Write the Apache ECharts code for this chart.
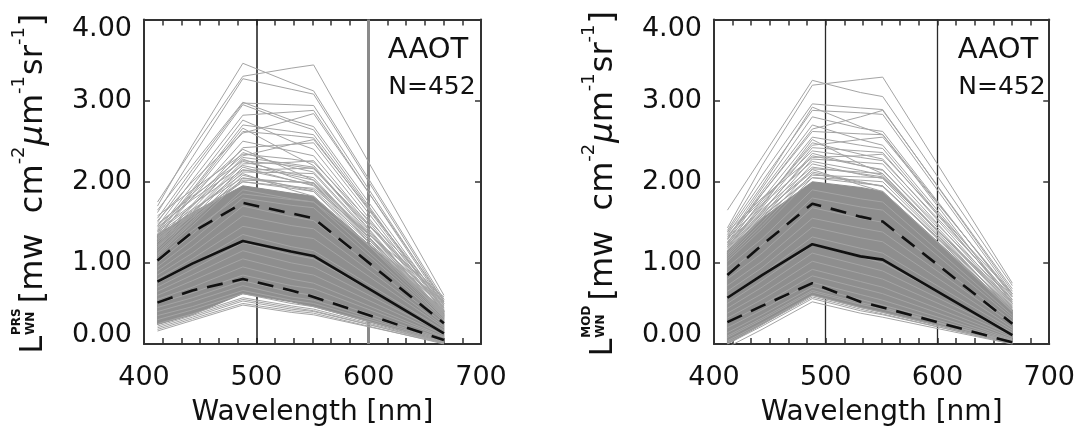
<!DOCTYPE html>
<html>
<head>
<meta charset="utf-8">
<script src="https://cdn.jsdelivr.net/npm/echarts@6/dist/echarts.min.js"></script>
<style>html,body{margin:0;padding:0;background:#fff}#c{width:1078px;height:435px}</style>
</head>
<body>
<div id="c"></div>
<script>
const wavelengths = [412, 443, 488, 531, 551, 667];
const xTicks = [400, 500, 600, 700];
const yTickLabels = ['0.00', '1.00', '2.00', '3.00', '4.00'];
const refLines = [500, 600];

const prsSpectra = [
  [1.70, 2.45, 3.46, 3.22, 3.12, 0.55],
  [1.75, 2.40, 3.30, 3.40, 3.44, 0.60],
  [1.62, 2.30, 3.27, 3.14, 3.08, 0.52],
  [1.55, 2.15, 2.97, 2.95, 2.94, 0.50],
  [1.50, 2.10, 2.95, 2.73, 2.64, 0.42],
  [1.45, 2.02, 2.82, 2.86, 2.88, 0.48],
  [1.40, 1.95, 2.76, 2.50, 2.40, 0.40],
  [1.38, 1.90, 2.70, 2.62, 2.58, 0.45],
  [1.35, 1.88, 2.66, 2.34, 2.20, 0.36],
  [1.30, 1.85, 2.62, 2.57, 2.54, 0.44],
  [1.33, 1.80, 2.50, 2.38, 2.32, 0.40],
  [1.28, 1.72, 2.42, 2.46, 2.48, 0.42],
  [1.25, 1.70, 2.36, 2.18, 2.12, 0.38],
  [1.22, 1.66, 2.30, 2.22, 2.18, 0.35],
  [1.20, 1.62, 2.25, 2.10, 2.05, 0.33],
  [1.18, 1.60, 2.22, 2.24, 2.26, 0.40],
  [1.15, 1.56, 2.18, 2.02, 1.95, 0.32],
  [1.12, 1.52, 2.12, 2.11, 2.10, 0.36],
  [1.10, 1.50, 2.08, 1.94, 1.88, 0.30],
  [1.08, 1.46, 2.04, 2.00, 1.98, 0.34],
  [1.65, 2.20, 2.98, 2.76, 2.68, 0.47],
  [1.52, 2.00, 2.60, 2.76, 2.84, 0.53],
  [1.42, 1.80, 2.32, 2.46, 2.52, 0.50],
  [1.46, 1.85, 2.40, 2.14, 2.02, 0.35],
  [1.20, 1.55, 2.00, 1.94, 1.92, 0.58],
  [1.05, 1.40, 1.85, 1.78, 1.75, 0.52],
  [1.36, 1.66, 2.05, 1.95, 1.90, 0.45],
  [1.30, 1.60, 2.00, 1.92, 1.88, 0.40],
  [1.40, 1.72, 2.15, 2.02, 1.96, 0.44],
  [1.32, 1.64, 2.10, 1.90, 1.82, 0.38],
  [1.44, 1.78, 2.20, 2.08, 2.02, 0.46],
  [1.26, 1.58, 2.02, 2.00, 1.99, 0.48],
  [1.38, 1.70, 2.28, 2.06, 1.98, 0.39],
  [1.48, 1.82, 2.26, 2.20, 2.16, 0.50],
  [1.58, 1.90, 2.34, 2.28, 2.24, 0.55],
  [1.28, 1.62, 2.14, 2.16, 2.17, 0.52],
  [1.00, 1.35, 1.90, 1.79, 1.75, 0.30],
  [0.95, 1.28, 1.80, 1.71, 1.68, 0.28],
  [0.90, 1.20, 1.70, 1.57, 1.52, 0.25],
  [0.85, 1.12, 1.58, 1.46, 1.42, 0.22],
  [0.80, 1.05, 1.45, 1.34, 1.30, 0.20],
  [0.75, 0.98, 1.35, 1.20, 1.15, 0.17],
  [0.70, 0.92, 1.25, 1.10, 1.05, 0.15],
  [0.65, 0.85, 1.15, 1.00, 0.95, 0.13],
  [0.60, 0.78, 1.05, 0.90, 0.85, 0.11],
  [0.55, 0.70, 0.95, 0.80, 0.75, 0.09],
  [0.50, 0.63, 0.85, 0.72, 0.68, 0.08],
  [0.45, 0.57, 0.78, 0.64, 0.60, 0.06],
  [0.40, 0.52, 0.72, 0.58, 0.54, 0.05],
  [0.35, 0.46, 0.66, 0.54, 0.50, 0.04],
  [0.30, 0.42, 0.62, 0.50, 0.46, 0.03],
  [0.25, 0.37, 0.57, 0.47, 0.43, 0.02],
  [0.20, 0.33, 0.53, 0.43, 0.40, 0.02],
  [0.16, 0.29, 0.48, 0.39, 0.36, 0.01],
  [0.18, 0.31, 0.50, 0.41, 0.38, 0.00],
  [0.22, 0.35, 0.55, 0.45, 0.41, 0.01]
];
const prsMean = [0.77, 0.99, 1.27, 1.14, 1.085, 0.13];
const prsPlusSd = [1.03, 1.38, 1.74, 1.61, 1.55, 0.255];
const prsMinusSd = [0.51, 0.66, 0.80, 0.66, 0.58, 0.05];
const prsCoreLow = [0.24, 0.36, 0.62, 0.52, 0.46, 0.02];
const prsCoreHigh = [1.35, 1.62, 1.95, 1.86, 1.82, 0.42];

const modSpectra = [
  [1.65, 2.30, 3.25, 3.10, 3.05, 0.72],
  [1.43, 2.20, 3.19, 3.26, 3.29, 0.75],
  [1.40, 2.08, 2.96, 2.91, 2.89, 0.65],
  [1.38, 2.00, 2.88, 2.85, 2.83, 0.62],
  [1.30, 1.92, 2.80, 2.66, 2.62, 0.58],
  [1.28, 1.88, 2.70, 2.52, 2.45, 0.55],
  [1.25, 1.85, 2.62, 2.59, 2.58, 0.60],
  [1.22, 1.78, 2.55, 2.45, 2.41, 0.52],
  [1.20, 1.72, 2.48, 2.34, 2.28, 0.50],
  [1.18, 1.68, 2.42, 2.38, 2.36, 0.54],
  [1.15, 1.62, 2.35, 2.20, 2.15, 0.46],
  [1.12, 1.58, 2.28, 2.24, 2.22, 0.48],
  [1.10, 1.55, 2.22, 2.09, 2.04, 0.42],
  [1.08, 1.50, 2.16, 2.12, 2.10, 0.45],
  [1.05, 1.46, 2.10, 1.99, 1.95, 0.40],
  [1.02, 1.42, 2.05, 2.02, 2.00, 0.43],
  [1.35, 1.95, 2.92, 2.68, 2.58, 0.50],
  [1.32, 1.85, 2.65, 2.80, 2.88, 0.68],
  [1.25, 1.75, 2.45, 2.52, 2.55, 0.62],
  [1.20, 1.70, 2.52, 2.22, 2.10, 0.40],
  [1.18, 1.58, 2.05, 1.98, 1.95, 0.45],
  [1.22, 1.62, 2.12, 2.00, 1.94, 0.44],
  [1.26, 1.66, 2.18, 2.10, 2.06, 0.50],
  [1.16, 1.56, 2.08, 2.06, 2.05, 0.52],
  [1.30, 1.72, 2.25, 2.14, 2.08, 0.47],
  [1.24, 1.64, 2.32, 2.20, 2.14, 0.55],
  [1.34, 1.78, 2.38, 2.30, 2.26, 0.58],
  [1.20, 1.60, 2.15, 1.96, 1.88, 0.40],
  [1.38, 1.80, 2.30, 2.32, 2.34, 0.62],
  [0.95, 1.30, 1.90, 1.79, 1.75, 0.35],
  [0.88, 1.22, 1.80, 1.69, 1.65, 0.32],
  [0.80, 1.12, 1.68, 1.55, 1.50, 0.28],
  [0.72, 1.02, 1.55, 1.43, 1.38, 0.24],
  [0.65, 0.94, 1.44, 1.31, 1.26, 0.20],
  [0.58, 0.86, 1.32, 1.18, 1.12, 0.17],
  [0.50, 0.78, 1.22, 1.07, 1.00, 0.14],
  [0.44, 0.70, 1.12, 0.97, 0.90, 0.12],
  [0.38, 0.62, 1.02, 0.87, 0.80, 0.10],
  [0.32, 0.55, 0.92, 0.77, 0.70, 0.08],
  [0.26, 0.48, 0.84, 0.69, 0.62, 0.06],
  [0.20, 0.42, 0.76, 0.61, 0.54, 0.05],
  [0.14, 0.36, 0.70, 0.55, 0.48, 0.04],
  [0.08, 0.30, 0.64, 0.49, 0.43, 0.03],
  [0.04, 0.26, 0.60, 0.45, 0.39, 0.02],
  [0.00, 0.22, 0.56, 0.41, 0.36, 0.01],
  [-0.04, 0.18, 0.52, 0.38, 0.33, 0.00],
  [0.02, 0.24, 0.58, 0.43, 0.37, 0.00],
  [0.10, 0.32, 0.66, 0.51, 0.45, 0.02]
];
const modMean = [0.57, 0.85, 1.23, 1.08, 1.04, 0.11];
const modPlusSd = [0.85, 1.22, 1.73, 1.57, 1.51, 0.25];
const modMinusSd = [0.27, 0.47, 0.75, 0.52, 0.45, 0.02];
const modCoreLow = [0.00, 0.24, 0.60, 0.45, 0.39, 0.01];
const modCoreHigh = [1.15, 1.55, 2.00, 1.93, 1.88, 0.42];

const FONT = '"DejaVu Sans", "Liberation Sans", sans-serif';
const GRID_W = 337, GRID_H = 324.5, GRID_TOP = 19.5;
const panels = [
  {left: 144, sup: 'PRS', spectra: prsSpectra, mean: prsMean, plus: prsPlusSd, minus: prsMinusSd,
   coreLow: prsCoreLow, coreHigh: prsCoreHigh,
   refStyles: [{color: '#1a1a1a', width: 1.5}, {color: '#8a8a8a', width: 3}]},
  {left: 714, sup: 'MOD', spectra: modSpectra, mean: modMean, plus: modPlusSd, minus: modMinusSd,
   coreLow: modCoreLow, coreHigh: modCoreHigh,
   refStyles: [{color: '#2a2a2a', width: 1.3}, {color: '#2a2a2a', width: 1.3}]}
];

const pairs = vals => wavelengths.map((w, k) => [w, vals[k]]);
const axisLineStyle = {color: '#333', width: 2};
const tickStyle = {color: '#333', width: 1.5};

const grid = [], xAxis = [], yAxis = [], series = [], graphic = [];

panels.forEach((p, i) => {
  grid.push({left: p.left, top: GRID_TOP, width: GRID_W, height: GRID_H, containLabel: false});
  const xBase = {
    type: 'value', gridIndex: i, min: xTicks[0], max: xTicks[xTicks.length - 1], interval: 100,
    splitLine: {show: false},
    axisLine: {show: true, onZero: false, lineStyle: axisLineStyle},
    axisTick: {show: true, inside: true, length: 6, lineStyle: tickStyle},
    minorTick: {show: true, splitNumber: 6, length: 6, lineStyle: tickStyle}
  };
  xAxis.push(Object.assign({}, xBase, {
    position: 'bottom',
    axisLabel: {show: true, margin: 20, fontFamily: FONT, fontSize: 27, color: '#111',
      formatter: v => String(v)},
    name: 'Wavelength [nm]', nameLocation: 'middle', nameGap: 55,
    nameTextStyle: {fontFamily: FONT, fontSize: 28, color: '#111'}
  }));
  xAxis.push(Object.assign({}, xBase, {position: 'top', axisLabel: {show: false}}));
  const yBase = {
    type: 'value', gridIndex: i, min: 0, max: 4, interval: 1,
    splitLine: {show: false},
    axisLine: {show: true, onZero: false, lineStyle: axisLineStyle},
    axisTick: {show: true, inside: true, length: 6, lineStyle: tickStyle}
  };
  yAxis.push(Object.assign({}, yBase, {
    position: 'left',
    axisLabel: {show: true, margin: 12, fontFamily: FONT, fontSize: 27, lineHeight: 18, color: '#111',
      formatter: v => yTickLabels[Math.round(v)],
      verticalAlignMinLabel: 'bottom', verticalAlignMaxLabel: 'top'}
  }));
  yAxis.push(Object.assign({}, yBase, {position: 'right', axisLabel: {show: false}}));

  const xi = 2 * i, yi = 2 * i;
  // reference vertical lines (underneath the spectra)
  series.push({
    type: 'line', xAxisIndex: xi, yAxisIndex: yi, data: [], z: 1, silent: true,
    markLine: {
      z: 1, silent: true, symbol: 'none', label: {show: false}, animation: false,
      data: refLines.map((w, k) => ({xAxis: w, lineStyle: {color: p.refStyles[k].color, width: p.refStyles[k].width, type: 'solid'}}))
    }
  });
  // dense core band of overlapping spectra, drawn as a polygon through the axes
  const low = p.coreLow, high = p.coreHigh;
  series.push({
    type: 'custom', xAxisIndex: xi, yAxisIndex: yi, z: 2, silent: true, clip: true,
    data: wavelengths.map((w, k) => [w, low[k], high[k]]),
    renderItem: (params, api) => {
      if (params.dataIndex !== 0) return null;
      const top = wavelengths.map((w, k) => api.coord([w, high[k]]));
      const bottom = wavelengths.map((w, k) => api.coord([w, low[k]])).reverse();
      return {type: 'polygon', shape: {points: top.concat(bottom)},
        style: {fill: '#8e8e8e', stroke: '#8e8e8e', lineWidth: 1}};
    },
    animation: false
  });
  // individual spectra
  p.spectra.forEach(s => {
    series.push({
      type: 'line', xAxisIndex: xi, yAxisIndex: yi, z: 3, silent: true, symbol: 'none',
      lineStyle: {color: '#a4a4a4', width: 1}, data: pairs(s), animation: false
    });
  });
  // mean and +/- sd
  series.push({type: 'line', xAxisIndex: xi, yAxisIndex: yi, z: 5, silent: true, symbol: 'none',
    lineStyle: {color: '#111', width: 2.6}, data: pairs(p.mean), animation: false});
  [p.plus, p.minus].forEach(arr => series.push({
    type: 'line', xAxisIndex: xi, yAxisIndex: yi, z: 5, silent: true, symbol: 'none',
    lineStyle: {color: '#111', width: 2.6, type: [16, 10]}, data: pairs(arr), animation: false
  }));

  // AAOT / N=452 annotation
  const right = p.left + GRID_W;
  graphic.push({type: 'text', x: right - 53, y: 50, z: 10,
    style: {text: 'AAOT', fontFamily: FONT, fontSize: 29, fill: '#111', align: 'center', verticalAlign: 'middle', textAlign: 'center', textVerticalAlign: 'middle'}});
  graphic.push({type: 'text', x: right - 49, y: 87, z: 10,
    style: {text: 'N=452', fontFamily: FONT, fontSize: 25, fill: '#111', align: 'center', verticalAlign: 'middle', textAlign: 'center', textVerticalAlign: 'middle'}});

  // rotated y-axis title: L^{sup}_{WN} [mw cm^-2 μm^-1 sr^-1]
  const ctx = document.createElement('canvas').getContext('2d');
  const measure = (t, size, weight, style) => {
    ctx.font = (style || 'normal') + ' ' + (weight || 'normal') + ' ' + size + 'px "DejaVu Sans"';
    return ctx.measureText(t).width;
  };
  const MAIN = 32, SUP = 18, IDX = 12;
  const pieces = [
    {t: '[mw  cm', s: MAIN, y: -11},
    {t: '-2', s: SUP, y: -26},
    {t: 'μ', s: MAIN, y: -11, italic: true},
    {t: 'm', s: MAIN, y: -11},
    {t: '-1', s: SUP, y: -26},
    {t: 'sr', s: MAIN, y: -11},
    {t: '-1', s: SUP, y: -26},
    {t: ']', s: MAIN, y: -11}
  ];
  const children = [];
  let x = 0;
  const lw = measure('L', MAIN);
  children.push({type: 'text', x: 0, y: -11, style: {text: 'L', fontFamily: FONT, fontSize: MAIN, fill: '#111', align: 'left', verticalAlign: 'middle', textAlign: 'left', textVerticalAlign: 'middle'}});
  x += lw + 1;
  children.push({type: 'text', x: x, y: -28, style: {text: p.sup, fontFamily: FONT, fontSize: IDX, fontWeight: 'bold', fill: '#111', align: 'left', verticalAlign: 'middle', textAlign: 'left', textVerticalAlign: 'middle'}});
  children.push({type: 'text', x: x, y: -14, style: {text: 'WN', fontFamily: FONT, fontSize: IDX, fontWeight: 'bold', fill: '#111', align: 'left', verticalAlign: 'middle', textAlign: 'left', textVerticalAlign: 'middle'}});
  x += Math.max(measure(p.sup, IDX, 'bold'), measure('WN', IDX, 'bold')) + 5;
  pieces.forEach(pc => {
    children.push({type: 'text', x: x, y: pc.y, style: {text: pc.t, fontFamily: FONT, fontSize: pc.s, fontStyle: pc.italic ? 'italic' : 'normal', fill: '#111', align: 'left', verticalAlign: 'middle', textAlign: 'left', textVerticalAlign: 'middle'}});
    x += measure(pc.t, pc.s, 'normal', pc.italic ? 'italic' : 'normal') + (pc.s === SUP ? 1 : 0);
  });
  const total = x;
  children.forEach(c => { c.x -= total / 2; });
  graphic.push({type: 'group', x: p.left - 99, y: GRID_TOP + GRID_H / 2 + 2, rotation: Math.PI / 2, children: children});
});

const chart = echarts.init(document.getElementById('c'), null, {renderer: 'canvas'});
chart.setOption({
  animation: false,
  backgroundColor: '#fff',
  grid: grid, xAxis: xAxis, yAxis: yAxis, series: series, graphic: graphic
});
</script>
</body>
</html>
